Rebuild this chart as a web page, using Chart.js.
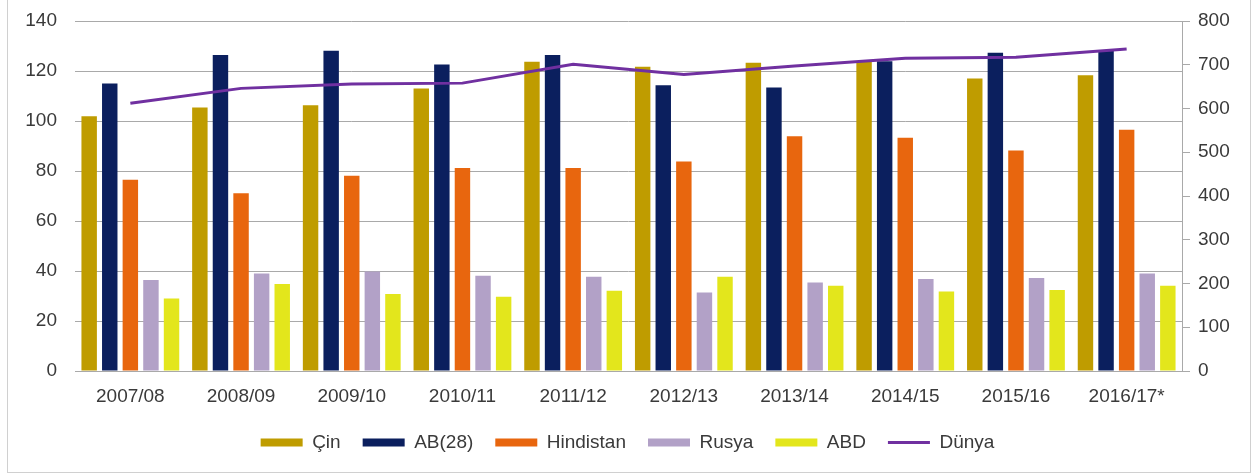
<!DOCTYPE html>
<html>
<head>
<meta charset="utf-8">
<script src="https://cdn.jsdelivr.net/npm/chart.js@4"></script>
<style>
  html, body { margin: 0; padding: 0; background: #fff; }
  #wrap { position: relative; width: 1255px; height: 474px; }
  #frame { position: absolute; left: 7px; top: -1px; width: 1242px; height: 472px;
           border: 1px solid #d0d0d0; pointer-events: none; }
</style>
</head>
<body>
<div id="wrap">
  <canvas id="grainChart" width="1255" height="474"></canvas>
  <div id="frame"></div>
</div>
<script>
const ctx = document.getElementById('grainChart').getContext('2d');

// Categories (marketing years)
const years = ['2007/08', '2008/09', '2009/10', '2010/11', '2011/12',
               '2012/13', '2013/14', '2014/15', '2015/16', '2016/17*'];

// Left axis series
const cin       = [101.9, 105.4, 106.3, 113.0, 123.7, 121.7, 123.3, 123.7, 117.0, 118.3];
const ab28      = [115.0, 126.4, 128.1, 122.6, 126.4, 114.3, 113.4, 123.9, 127.3, 128.4];
const hindistan = [76.5, 71.1, 78.1, 81.2, 81.2, 83.8, 93.9, 93.3, 88.2, 96.5];
const rusya     = [36.4, 39.0, 39.8, 38.1, 37.7, 31.4, 35.4, 36.8, 37.2, 39.0];
const abd       = [29.0, 34.8, 30.8, 29.7, 32.1, 37.7, 34.1, 31.8, 32.4, 34.1];

// Right axis series
const dunya = [612, 646, 656, 658, 701, 678, 697, 715, 717, 736];

const FONT = { family: '"Liberation Sans", Arial, sans-serif', size: 19 };
const TEXT = '#3a3a3a';
const GRID = '#a9a9a9';

const bar = (label, values, color) => ({
    type: 'bar',
    label: label,
    data: values,
    backgroundColor: color,
    borderWidth: 0,
    yAxisID: 'y',
    categoryPercentage: 0.93,
    barPercentage: 0.75,
    order: 2
});

const data = {
    labels: years,
    datasets: [
        bar('Çin', cin, '#bf9c00'),
        bar('AB(28)', ab28, '#0b1f5e'),
        bar('Hindistan', hindistan, '#e8660e'),
        bar('Rusya', rusya, '#b2a1c7'),
        bar('ABD', abd, '#e3e61c'),
        {
            type: 'line',
            label: 'Dünya',
            data: dunya,
            borderColor: '#7030a0',
            backgroundColor: '#7030a0',
            borderWidth: 3,
            pointRadius: 0,
            pointStyle: 'line',
            tension: 0,
            yAxisID: 'y1',
            order: 1   // drawn above the bars
        }
    ]
};

// fixed axis widths, no extra label overflow padding on the value axes
const fixY = (w) => (s) => { s.width = w; s.paddingTop = 0; s.paddingBottom = 0; };

const config = {
    data: data,
    options: {
        responsive: false,
        animation: false,
        layout: { padding: { top: 21, left: 0, right: 0, bottom: 12 } },
        scales: {
            x: {
                grid: { display: false },
                border: { display: true, color: GRID },
                ticks: { font: FONT, color: TEXT, padding: 6, maxRotation: 0, autoSkip: false },
                afterFit: (s) => { s.height = 40; }
            },
            y: {
                position: 'left',
                min: 0,
                max: 140,
                ticks: { stepSize: 20, font: FONT, color: TEXT, padding: 18 },
                grid: { color: GRID, drawTicks: false },
                border: { display: false },
                afterFit: fixY(75)
            },
            y1: {
                position: 'right',
                min: 0,
                max: 800,
                ticks: { stepSize: 100, font: FONT, color: TEXT, padding: 8 },
                grid: { drawOnChartArea: false, color: GRID, tickLength: 8 },
                border: { display: true, color: GRID },
                afterFit: fixY(73)
            }
        },
        plugins: {
            legend: {
                position: 'bottom',
                labels: {
                    font: FONT,
                    color: TEXT,
                    usePointStyle: true,
                    pointStyleWidth: 42,
                    boxHeight: 8,
                    padding: 22,
                    sort: (a, b) => a.datasetIndex - b.datasetIndex,
                    generateLabels: (chart) => {
                        const items = Chart.defaults.plugins.legend.labels.generateLabels(chart);
                        items.forEach(item => {
                            const ds = chart.data.datasets[item.datasetIndex];
                            item.pointStyle = ds.type === 'line' ? 'line' : 'rect';
                        });
                        return items;
                    }
                }
            },
            tooltip: { enabled: false }
        }
    }
};

const grainChart = new Chart(ctx, config);
</script>
</body>
</html>
